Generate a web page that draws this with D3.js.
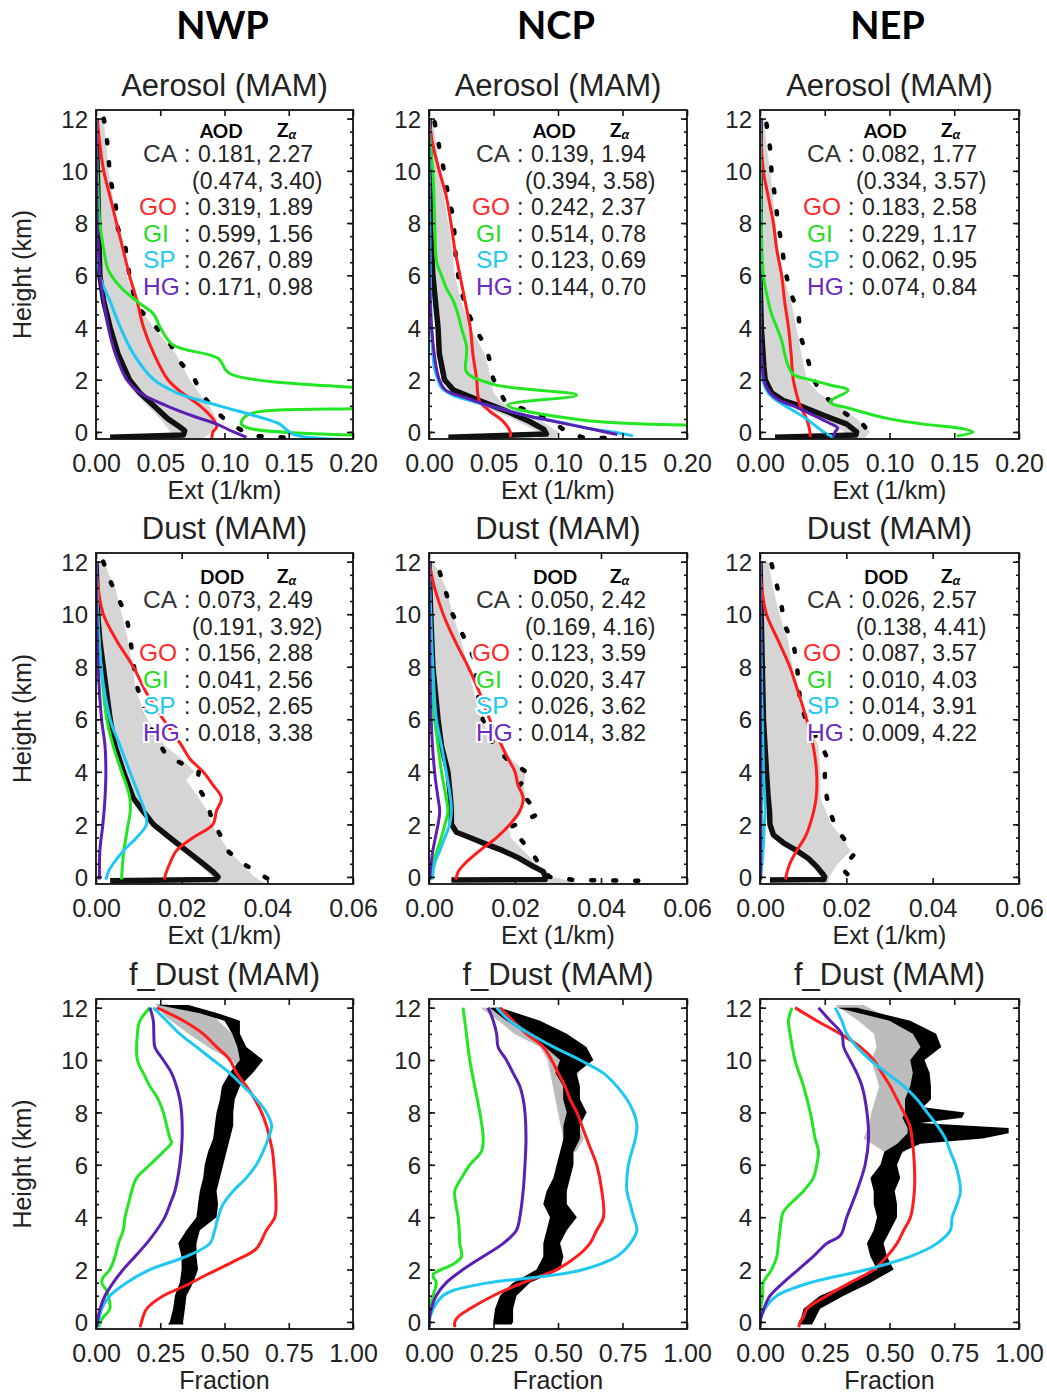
<!DOCTYPE html>
<html>
<head>
<meta charset="utf-8">
<script src="https://cdn.jsdelivr.net/npm/d3@7"></script>
<style>
  body { margin: 0; background: #fff; }
  svg { display: block; }
</style>
</head>
<body>
<div id="chart"></div>
<script>
// ---- categories / ticks ----
const regions = ["NWP", "NCP", "NEP"];
const rowTitles = ["Aerosol (MAM)", "Dust (MAM)", "f_Dust (MAM)"];
const rowXLabels = ["Ext (1/km)", "Ext (1/km)", "Fraction"];
const rowHeaders = ["AOD", "DOD", null];
const xDomains = [[0, 0.2], [0, 0.06], [0, 1]];
const xTicks = [[0, 0.05, 0.1, 0.15, 0.2], [0, 0.02, 0.04, 0.06], [0, 0.25, 0.5, 0.75, 1]];
const yTicks = [0, 2, 4, 6, 8, 10, 12];
const yMinorTicks = d3.range(0, 12.01, 0.5);
const typeNames = ["CA", null, "GO", "GI", "SP", "HG"];

// ---- legend stats: [optical depth, Z_alpha]; second row is the bracketed CA value ----
const nwpAerStats = [[0.181, 2.27], [0.474, 3.40], [0.319, 1.89], [0.599, 1.56], [0.267, 0.89], [0.171, 0.98]];
const ncpAerStats = [[0.139, 1.94], [0.394, 3.58], [0.242, 2.37], [0.514, 0.78], [0.123, 0.69], [0.144, 0.70]];
const nepAerStats = [[0.082, 1.77], [0.334, 3.57], [0.183, 2.58], [0.229, 1.17], [0.062, 0.95], [0.074, 0.84]];
const nwpDustStats = [[0.073, 2.49], [0.191, 3.92], [0.156, 2.88], [0.041, 2.56], [0.052, 2.65], [0.018, 3.38]];
const ncpDustStats = [[0.050, 2.42], [0.169, 4.16], [0.123, 3.59], [0.020, 3.47], [0.026, 3.62], [0.014, 3.82]];
const nepDustStats = [[0.026, 2.57], [0.138, 4.41], [0.087, 3.57], [0.010, 4.03], [0.014, 3.91], [0.009, 4.22]];

// ---- profiles: lines are [value, height]; gray/band are [height, low, high] ----
// NWP aerosol
const nwpAerGray = [[12, 0, 0.006], [11, 0, 0.008], [10, 0.001, 0.010], [9, 0.001, 0.013], [8, 0.001, 0.016], [7, 0.002, 0.020], [6, 0.002, 0.024], [5, 0.005, 0.030], [4, 0.009, 0.045], [3, 0.014, 0.062], [2, 0.022, 0.073], [1.5, 0.030, 0.080], [1, 0.040, 0.088], [0.5, 0.050, 0.094], [0, 0.058, 0.090], [-0.3, 0.058, 0.082]];
const nwpAerDots = [[0.006, 12.0], [0.008, 11.5], [0.0096, 10.6], [0.011, 9.7], [0.015, 8.85], [0.017, 7.8], [0.023, 7.05], [0.025, 6.3], [0.028, 5.5], [0.033, 4.75], [0.047, 4.0], [0.058, 3.35], [0.065, 2.7], [0.076, 2.1], [0.081, 1.55], [0.091, 0.9], [0.102, 0.4], [0.112, 0.1], [0.122, -0.15], [0.15, -0.22]];
const nwpAerCA = [[0, 12], [0.001, 10], [0.002, 8], [0.003, 6], [0.006, 5], [0.011, 4], [0.017, 3], [0.026, 2], [0.034, 1.5], [0.045, 1], [0.056, 0.5], [0.065, 0.2], [0.069, 0.05], [0.068, -0.12], [0.011, -0.2]];
const nwpAerGO = [[0.001, 12], [0.003, 11], [0.006, 10], [0.011, 9], [0.016, 8], [0.021, 7], [0.026, 6], [0.032, 5], [0.037, 4], [0.045, 3], [0.056, 2], [0.067, 1.5], [0.081, 1], [0.091, 0.5], [0.094, 0.2], [0.091, 0], [0.090, -0.3]];
const nwpAerGI = [[0, 12], [0.001, 10], [0.003, 8], [0.006, 7], [0.0096, 6.2], [0.020, 5.5], [0.032, 5], [0.045, 4.5], [0.050, 4], [0.060, 3.33], [0.095, 2.82], [0.104, 2.24], [0.25, 1.4], [0.24, 1.05], [0.1185, 0.67], [0.113, 0.32], [0.12, 0.13], [0.21, -0.13]];
const nwpAerSP = [[0, 12], [0.001, 8], [0.003, 6], [0.011, 5], [0.019, 4], [0.029, 3], [0.045, 2], [0.063, 1.5], [0.096, 1], [0.125, 0.6], [0.143, 0.3], [0.148, 0.1], [0.154, -0.1], [0.2, -0.3]];
const nwpAerHG = [[0, 12], [0.001, 8], [0.003, 6], [0.006, 5], [0.0096, 4], [0.015, 3], [0.024, 2], [0.034, 1.5], [0.055, 1], [0.076, 0.6], [0.094, 0.3], [0.107, 0], [0.117, -0.2]];

// NCP aerosol
const ncpAerGray = [[12, 0, 0.003], [10, 0, 0.008], [8, 0.001, 0.015], [7, 0.001, 0.018], [6, 0.002, 0.020], [5, 0.004, 0.025], [4, 0.006, 0.032], [3, 0.008, 0.043], [2.5, 0.009, 0.046], [2, 0.011, 0.048], [1.5, 0.020, 0.050], [1.2, 0.030, 0.055], [1, 0.040, 0.060], [0.5, 0.065, 0.085], [0, 0.085, 0.100], [-0.3, 0.085, 0.098]];
const ncpAerDots = [[0.0044, 11.86], [0.008, 10.9], [0.012, 9.9], [0.015, 9.0], [0.019, 8.2], [0.020, 7.3], [0.021, 6.5], [0.024, 5.6], [0.029, 4.7], [0.0355, 4.0], [0.0446, 3.2], [0.048, 2.56], [0.0497, 2.05], [0.055, 1.54], [0.059, 1.15], [0.0756, 0.83], [0.096, 0.38], [0.107, 0.0], [0.12, -0.22], [0.145, -0.24]];
const ncpAerCA = [[0, 12], [0.001, 10], [0.001, 8], [0.003, 6], [0.007, 4], [0.008, 3], [0.012, 2], [0.019, 1.6], [0.039, 1.2], [0.060, 0.8], [0.078, 0.4], [0.089, 0.1], [0.091, -0.08], [0.015, -0.2]];
const ncpAerGO = [[0, 12], [0.003, 11], [0.008, 10], [0.0135, 9], [0.017, 8], [0.020, 7], [0.024, 6], [0.028, 5], [0.032, 4], [0.034, 3], [0.037, 2], [0.039, 1.2], [0.047, 0.8], [0.0575, 0.4], [0.063, 0], [0.063, -0.2]];
const ncpAerGI = [[0, 12], [0.001, 11], [0.003, 10], [0.0045, 8], [0.006, 6.5], [0.0096, 6], [0.0135, 5.5], [0.019, 5], [0.0225, 4.5], [0.025, 4], [0.029, 3.3], [0.029, 2.9], [0.029, 2.3], [0.050, 1.82], [0.1145, 1.41], [0.061, 1.03], [0.12, 0.45], [0.2, 0.26], [0.24, 0.21]];
const ncpAerSP = [[0, 12], [0.001, 6], [0.002, 4], [0.004, 2.5], [0.007, 2], [0.0096, 1.7], [0.019, 1.4], [0.032, 1.2], [0.047, 1.0], [0.078, 0.6], [0.109, 0.3], [0.127, 0.1], [0.143, 0], [0.158, -0.15]];
const ncpAerHG = [[0, 12], [0.002, 4], [0.008, 2], [0.013, 1.6], [0.029, 1.3], [0.047, 1.0], [0.078, 0.6], [0.107, 0.3], [0.127, 0.1], [0.146, -0.1]];

// NEP aerosol
const nepAerGray = [[12, 0, 0.003], [11, 0, 0.005], [10, 0, 0.008], [9, 0, 0.010], [8, 0, 0.012], [7, 0.001, 0.014], [6, 0.001, 0.018], [5, 0.001, 0.024], [4, 0.002, 0.028], [3, 0.002, 0.032], [2, 0.004, 0.036], [1.5, 0.010, 0.045], [1, 0.030, 0.060], [0.5, 0.050, 0.075], [0, 0.065, 0.085], [-0.3, 0.065, 0.080]];
const nepAerDots = [[0.005, 11.8], [0.0077, 10.9], [0.009, 9.9], [0.0116, 9.0], [0.014, 7.95], [0.0167, 7.2], [0.019, 6.3], [0.023, 5.4], [0.0296, 4.6], [0.031, 3.7], [0.036, 2.95], [0.040, 2.2], [0.046, 1.54], [0.064, 0.77], [0.080, 0.26], [0.0874, -0.25]];
const nepAerCA = [[0, 12], [0, 6], [0.001, 4], [0.003, 2.5], [0.004, 2], [0.009, 1.5], [0.018, 1.2], [0.031, 1.0], [0.051, 0.6], [0.067, 0.3], [0.0746, 0], [0.074, -0.12], [0.0116, -0.2]];
const nepAerGO = [[0, 12], [0.0026, 10], [0.0064, 9], [0.0103, 8], [0.0129, 7], [0.0167, 6], [0.019, 5], [0.022, 4], [0.024, 3], [0.0257, 2], [0.028, 1.5], [0.031, 1], [0.036, 0.5], [0.0386, 0], [0.0386, -0.2]];
const nepAerGI = [[0, 12], [0.001, 8], [0.0026, 6], [0.0064, 5], [0.009, 4.5], [0.013, 4], [0.0167, 3.5], [0.019, 3], [0.022, 2.5], [0.0257, 2.2], [0.0386, 2.0], [0.054, 1.8], [0.068, 1.6], [0.054, 1.15], [0.0694, 0.9], [0.100, 0.5], [0.126, 0.3], [0.157, 0.12], [0.1645, 0.0], [0.152, -0.15]];
const nepAerSP = [[0, 12], [0, 6], [0.0005, 3], [0.002, 2], [0.0064, 1.5], [0.013, 1.2], [0.023, 0.9], [0.036, 0.5], [0.0437, 0.2], [0.049, 0], [0.0566, -0.2]];
const nepAerHG = [[0, 12], [0.003, 2], [0.0077, 1.5], [0.0154, 1.2], [0.0257, 1], [0.0386, 0.7], [0.051, 0.4], [0.060, 0.15], [0.058, 0], [0.0566, -0.2]];

// NWP dust
const nwpDustGray = [[12, 0, 0.002], [11.5, 0, 0.003], [11, 0, 0.0045], [10, 0.0005, 0.006], [9, 0.001, 0.0075], [8, 0.0015, 0.0085], [7, 0.002, 0.0095], [6, 0.003, 0.012], [5, 0.0045, 0.016], [4.5, 0.005, 0.020], [4, 0.006, 0.023], [3.7, 0.007, 0.021], [3, 0.0085, 0.024], [2.5, 0.010, 0.026], [2, 0.013, 0.027], [1.5, 0.017, 0.029], [1, 0.020, 0.031], [0.5, 0.024, 0.034], [0, 0.027, 0.037], [-0.3, 0.027, 0.040]];
const nwpDustDots = [[0.0017, 12.0], [0.0035, 11.2], [0.0071, 9.94], [0.0079, 9.2], [0.0087, 8.2], [0.0095, 7.3], [0.011, 6.5], [0.013, 5.6], [0.0165, 4.6], [0.024, 4.0], [0.0235, 3.5], [0.026, 2.85], [0.027, 2.2], [0.029, 1.6], [0.031, 0.95], [0.035, 0.44], [0.040, -0.06], [0.042, -0.2]];
const nwpDustCA = [[0, 12], [0.0004, 10], [0.0009, 9], [0.0017, 8], [0.0025, 7], [0.0033, 6], [0.0044, 5], [0.0064, 4], [0.0087, 3], [0.011, 2.5], [0.0134, 2], [0.0172, 1.5], [0.0211, 1], [0.025, 0.5], [0.0273, 0.2], [0.0285, 0], [0.028, -0.1], [0.0033, -0.15]];
const nwpDustGO = [[0, 12], [0.0005, 11], [0.0017, 10], [0.0048, 9], [0.0087, 8], [0.0118, 7], [0.0157, 6], [0.020, 5], [0.0219, 4.5], [0.025, 4], [0.0273, 3.5], [0.0293, 3], [0.0281, 2.5], [0.0273, 2], [0.0227, 1.5], [0.0188, 1], [0.0172, 0.5], [0.0161, 0], [0.0161, -0.1]];
const nwpDustGI = [[0, 12], [0.0004, 10], [0.0012, 8], [0.0025, 6], [0.004, 5], [0.006, 4], [0.0071, 3.5], [0.0079, 3], [0.008, 2.5], [0.0075, 2], [0.007, 1.5], [0.0065, 1], [0.0062, 0.5], [0.006, 0], [0.006, -0.1]];
const nwpDustSP = [[0, 12], [0.0012, 8], [0.0033, 6], [0.0056, 5], [0.0079, 4], [0.0103, 3], [0.0114, 2.5], [0.0118, 2], [0.0095, 1.5], [0.0064, 1], [0.004, 0.5], [0.0029, 0.2], [0.0025, 0], [0.0023, -0.1]];
const nwpDustHG = [[0, 12], [0.0005, 8], [0.0013, 6], [0.0021, 5], [0.0023, 4], [0.0021, 3], [0.0016, 2], [0.0009, 1], [0.0008, 0], [0.0008, -0.1]];

// NCP dust
const ncpDustGray = [[12, 0, 0.001], [11.5, 0, 0.0025], [11, 0, 0.004], [10, 0, 0.0055], [9, 0.0005, 0.0075], [8, 0.001, 0.009], [7, 0.0015, 0.0105], [6, 0.002, 0.012], [5.5, 0.0025, 0.014], [5, 0.003, 0.017], [4.5, 0.0035, 0.019], [4, 0.004, 0.0225], [3.5, 0.0045, 0.022], [3, 0.005, 0.0225], [2.5, 0.005, 0.021], [2, 0.005, 0.0185], [1.5, 0.010, 0.019], [1, 0.017, 0.022], [0.5, 0.023, 0.025], [0, 0.027, 0.029], [-0.2, 0.027, 0.034], [-0.3, 0.027, 0.034]];
const ncpDustDots = [[0.0025, 11.6], [0.004, 10.8], [0.0055, 10], [0.0085, 9], [0.0105, 8.3], [0.011, 7.6], [0.0115, 6.8], [0.0125, 6], [0.0145, 5.2], [0.018, 4.5], [0.0235, 3.9], [0.0205, 3.4], [0.023, 2.9], [0.0255, 2.4], [0.019, 1.9], [0.022, 1.3], [0.024, 0.9], [0.026, 0.4], [0.028, 0], [0.034, -0.12], [0.053, -0.15]];
const ncpDustCA = [[0, 12], [0.0004, 10], [0.0009, 8], [0.0021, 6], [0.0029, 5], [0.0044, 4], [0.005, 3], [0.0052, 2.5], [0.0052, 2], [0.0064, 1.7], [0.0095, 1.5], [0.014, 1.2], [0.0172, 1], [0.0211, 0.7], [0.0242, 0.4], [0.0266, 0.2], [0.027, 0], [0.027, -0.1], [0.0052, -0.12]];
const ncpDustGO = [[0, 12], [0.0006, 11.5], [0.0013, 11], [0.0033, 10], [0.006, 9], [0.0091, 8], [0.0118, 7], [0.0141, 6], [0.0169, 5], [0.0184, 4.5], [0.020, 4], [0.0207, 3.5], [0.0219, 3], [0.0211, 2.5], [0.0188, 2], [0.0157, 1.5], [0.0118, 1], [0.0083, 0.5], [0.0068, 0.2], [0.0064, 0], [0.0062, -0.1]];
const ncpDustGI = [[0, 12], [0.0005, 8], [0.0013, 6], [0.0021, 5], [0.0029, 4], [0.004, 3], [0.0044, 2.5], [0.0037, 2], [0.0029, 1.5], [0.0019, 1], [0.0009, 0.5], [0.0005, 0], [0.0005, -0.1]];
const ncpDustSP = [[0, 12], [0.0009, 8], [0.0017, 6], [0.0029, 5], [0.004, 4], [0.005, 3], [0.0052, 2.5], [0.0048, 2], [0.0037, 1.5], [0.0025, 1], [0.0013, 0.5], [0.0008, 0], [0.0008, -0.1]];
const ncpDustHG = [[0, 12], [0.0005, 6], [0.0013, 4], [0.0021, 3], [0.0025, 2.5], [0.0021, 2], [0.0009, 1], [0.0002, 0], [0.0002, -0.1]];

// NEP dust
const nepDustGray = [[12, 0, 0.002], [11, 0, 0.003], [10, 0, 0.0045], [9, 0.0002, 0.0065], [8, 0.0004, 0.0075], [7, 0.0005, 0.0085], [6, 0.0007, 0.0105], [5, 0.001, 0.0135], [4, 0.0013, 0.014], [3, 0.0015, 0.014], [2, 0.0022, 0.0165], [1.5, 0.0028, 0.019], [1, 0.008, 0.021], [0.5, 0.012, 0.018], [0, 0.014, 0.016], [-0.3, 0.014, 0.016]];
const nepDustDots = [[0.0027, 11.9], [0.0039, 11.1], [0.005, 10.3], [0.0058, 9.55], [0.0077, 8.9], [0.0085, 8.2], [0.0089, 7.4], [0.0093, 6.65], [0.0108, 5.9], [0.0139, 5.1], [0.0154, 4.6], [0.015, 3.86], [0.0154, 3.1], [0.0162, 2.47], [0.0177, 1.84], [0.020, 1.33], [0.0216, 0.82], [0.019, 0.32], [0.0216, -0.13]];
const nepDustCA = [[0, 12], [0.0008, 6], [0.0015, 4], [0.0019, 3], [0.0022, 2.5], [0.0023, 2], [0.0031, 1.6], [0.0054, 1.3], [0.0085, 1], [0.0112, 0.7], [0.0131, 0.4], [0.0146, 0.1], [0.015, 0], [0.0148, -0.1], [0.0023, -0.12]];
const nepDustGO = [[0, 12], [0.0004, 11], [0.0015, 10], [0.0042, 9], [0.0069, 8], [0.0089, 7], [0.0108, 6], [0.0123, 5], [0.0131, 4], [0.013, 3], [0.0116, 2], [0.0104, 1.5], [0.0085, 1], [0.0069, 0.5], [0.006, 0], [0.0059, -0.1]];
const nepDustGI = [[0, 12], [0.0002, 6], [0.0003, 3], [0.0002, 1], [0.0001, 0], [0.0001, -0.1]];
const nepDustSP = [[0, 12], [0.0003, 8], [0.0008, 4], [0.0012, 2.5], [0.001, 2], [0.0007, 1], [0.0002, 0], [0.0002, -0.1]];
const nepDustHG = [[0, 12], [0.0001, 6], [0.0002, 3], [0.0001, 0], [0.0001, -0.1]];

// NWP dust fraction
const nwpFracGray = [[12.15, 0.23, 0.27], [11.65, 0.27, 0.46], [11.0, 0.36, 0.53], [10.4, 0.45, 0.56], [10.0, 0.53, 0.57], [9.6, 0.56, 0.57]];
const nwpFracBand = [[12.1, 0.24, 0.36], [11.8, 0.40, 0.47], [11.5, 0.50, 0.56], [11.0, 0.53, 0.56], [10.5, 0.55, 0.585], [10.0, 0.56, 0.65], [9.5, 0.52, 0.61], [9.0, 0.49, 0.56], [8.5, 0.482, 0.54], [8.0, 0.469, 0.534], [7.5, 0.462, 0.534], [7.0, 0.456, 0.521], [6.5, 0.436, 0.508], [6.0, 0.423, 0.495], [5.5, 0.417, 0.482], [5.0, 0.404, 0.469], [4.5, 0.397, 0.475], [4.0, 0.391, 0.469], [3.5, 0.352, 0.404], [3.0, 0.320, 0.391], [2.5, 0.333, 0.391], [2.0, 0.333, 0.397], [1.5, 0.326, 0.378], [1.0, 0.307, 0.352], [0.5, 0.300, 0.346], [0.0, 0.287, 0.339], [-0.1, 0.28, 0.34]];
const nwpFracGO = [[0.236, 12], [0.34, 11.5], [0.417, 11], [0.469, 10.5], [0.521, 10], [0.547, 9.5], [0.585, 9], [0.618, 8.5], [0.644, 8], [0.663, 7.5], [0.676, 7], [0.687, 6.5], [0.692, 6], [0.699, 5], [0.696, 4], [0.663, 3.5], [0.624, 2.8], [0.534, 2.3], [0.43, 1.8], [0.352, 1.4], [0.262, 1.0], [0.197, 0.5], [0.177, 0], [0.172, -0.2]];
const nwpFracGI = [[0.21, 12], [0.171, 11.5], [0.161, 11], [0.161, 10], [0.184, 9.5], [0.21, 9], [0.242, 8.5], [0.262, 8], [0.275, 7.5], [0.288, 7], [0.294, 6.85], [0.262, 6.5], [0.21, 6], [0.158, 5.5], [0.139, 5], [0.126, 4.5], [0.113, 4], [0.106, 3.5], [0.087, 3], [0.074, 2.5], [0.054, 2], [0.028, 1.7], [0.022, 1.5], [0.041, 1.2], [0.048, 1], [0.054, 0.5], [0.03, 0.2], [0.016, 0], [0.01, -0.2]];
const nwpFracSP = [[0.223, 12], [0.275, 11.5], [0.326, 11], [0.391, 10.5], [0.456, 10], [0.521, 9.5], [0.573, 9], [0.624, 8.5], [0.663, 8], [0.683, 7.5], [0.67, 7], [0.65, 6.5], [0.624, 6], [0.585, 5.5], [0.534, 5], [0.495, 4.5], [0.475, 4], [0.462, 3.5], [0.443, 3], [0.352, 2.5], [0.21, 2], [0.119, 1.5], [0.054, 1], [0.022, 0.5], [0.009, 0], [0.005, -0.2]];
const nwpFracHG = [[0.21, 12], [0.223, 11.5], [0.225, 11], [0.229, 10.5], [0.262, 10], [0.294, 9.5], [0.313, 9], [0.326, 8.5], [0.333, 8], [0.335, 7], [0.326, 6], [0.307, 5], [0.288, 4.5], [0.268, 4], [0.236, 3.5], [0.197, 3], [0.152, 2.5], [0.106, 2], [0.067, 1.5], [0.035, 1], [0.016, 0.5], [0.005, 0], [0.003, -0.2]];

// NCP dust fraction
const ncpFracGray = [[12.0, 0.20, 0.26], [11.5, 0.27, 0.36], [11.0, 0.33, 0.45], [10.5, 0.43, 0.55], [10.0, 0.46, 0.60], [9.0, 0.48, 0.56], [8.0, 0.50, 0.56], [7.0, 0.52, 0.60], [6.5, 0.53, 0.57]];
const ncpFracBand = [[12.0, 0.236, 0.275], [11.5, 0.30, 0.43], [11.0, 0.378, 0.534], [10.5, 0.45, 0.61], [10.0, 0.508, 0.637], [9.5, 0.49, 0.572], [9.0, 0.52, 0.585], [8.5, 0.52, 0.585], [8.0, 0.534, 0.611], [7.5, 0.521, 0.585], [7.0, 0.521, 0.585], [6.5, 0.508, 0.56], [6.0, 0.495, 0.56], [5.5, 0.482, 0.547], [5.0, 0.456, 0.534], [4.5, 0.443, 0.534], [4.0, 0.469, 0.573], [3.5, 0.456, 0.534], [3.0, 0.443, 0.508], [2.5, 0.443, 0.521], [2.0, 0.417, 0.508], [1.5, 0.326, 0.391], [1.0, 0.275, 0.339], [0.5, 0.256, 0.326], [0.0, 0.249, 0.326], [-0.1, 0.25, 0.32]];
const ncpFracGO = [[0.275, 12], [0.326, 11.5], [0.378, 11], [0.443, 10.5], [0.475, 10], [0.501, 9.5], [0.527, 9], [0.547, 8.5], [0.573, 8], [0.592, 7.5], [0.611, 7], [0.631, 6.5], [0.65, 6], [0.67, 5], [0.676, 4], [0.65, 3.5], [0.624, 3], [0.573, 2.5], [0.495, 2], [0.365, 1.5], [0.249, 1], [0.158, 0.5], [0.113, 0.2], [0.1, 0], [0.1, -0.2]];
const ncpFracGI = [[0.132, 12], [0.145, 11], [0.158, 10], [0.177, 9], [0.197, 8], [0.21, 7], [0.203, 6.5], [0.158, 6], [0.126, 5.5], [0.1, 5], [0.104, 4.5], [0.113, 4], [0.117, 3.5], [0.119, 3], [0.126, 2.5], [0.093, 2.2], [0.016, 1.8], [0.028, 1.5], [0.022, 1.2], [0.016, 1], [0.003, 0.5], [0, 0], [0, -0.2]];
const ncpFracSP = [[0.262, 12], [0.313, 11.5], [0.391, 11], [0.482, 10.5], [0.585, 10], [0.676, 9.5], [0.728, 9], [0.767, 8.5], [0.793, 8], [0.806, 7.5], [0.80, 7], [0.773, 6], [0.767, 5], [0.78, 4.5], [0.793, 4], [0.806, 3.5], [0.78, 3], [0.728, 2.5], [0.598, 2], [0.456, 1.75], [0.236, 1.5], [0.093, 1.2], [0.054, 1], [0.016, 0.5], [0, 0], [0, -0.2]];
const ncpFracHG = [[0.229, 12], [0.249, 11.5], [0.262, 11], [0.268, 10.5], [0.30, 10], [0.326, 9.5], [0.352, 9], [0.365, 8.5], [0.372, 8], [0.376, 7], [0.372, 6], [0.365, 5], [0.352, 4], [0.339, 3.5], [0.288, 3], [0.21, 2.5], [0.132, 2], [0.067, 1.5], [0.028, 1], [0.009, 0.5], [0, 0], [0, -0.2]];

// NEP dust fraction
const nepFracGray = [[12.1, 0.29, 0.40], [11.5, 0.38, 0.52], [11.0, 0.44, 0.60], [10.5, 0.45, 0.63], [10.0, 0.43, 0.60], [9.0, 0.46, 0.59], [8.0, 0.43, 0.57], [7.5, 0.42, 0.60], [7.0, 0.40, 0.58], [6.5, 0.48, 0.56], [6.3, 0.50, 0.52]];
const nepFracBand = [[12.0, 0.297, 0.374], [11.5, 0.50, 0.58], [11.0, 0.59, 0.68], [10.5, 0.62, 0.70], [10.0, 0.58, 0.635], [9.5, 0.59, 0.655], [9.0, 0.58, 0.66], [8.5, 0.56, 0.66], [8.2, 0.56, 0.63], [8.0, 0.56, 0.79], [7.8, 0.55, 0.78], [7.6, 0.56, 0.62], [7.4, 0.57, 0.96], [7.2, 0.57, 0.96], [7.0, 0.55, 0.86], [6.8, 0.53, 0.62], [6.5, 0.48, 0.55], [6.0, 0.465, 0.529], [5.5, 0.426, 0.541], [5.0, 0.439, 0.52], [4.5, 0.439, 0.529], [4.0, 0.452, 0.529], [3.5, 0.439, 0.503], [3.0, 0.413, 0.477], [2.5, 0.426, 0.49], [2.0, 0.452, 0.516], [1.5, 0.348, 0.426], [1.0, 0.232, 0.323], [0.5, 0.168, 0.232], [0.0, 0.155, 0.206], [-0.1, 0.155, 0.2]];
const nepFracGO = [[0.135, 12], [0.219, 11.5], [0.31, 11], [0.387, 10.5], [0.439, 10], [0.471, 9.5], [0.503, 9], [0.529, 8.5], [0.555, 8], [0.578, 7.5], [0.587, 7], [0.596, 6], [0.596, 5], [0.581, 4], [0.555, 3.5], [0.529, 3], [0.49, 2.5], [0.439, 2], [0.348, 1.5], [0.258, 1], [0.181, 0.5], [0.168, 0.2], [0.155, 0], [0.15, -0.2]];
const nepFracGI = [[0.123, 12], [0.11, 11.5], [0.116, 11], [0.135, 10], [0.168, 9], [0.194, 8], [0.213, 7], [0.226, 6.5], [0.219, 6], [0.206, 5.5], [0.168, 5], [0.116, 4.5], [0.09, 4.2], [0.084, 4], [0.077, 3.5], [0.071, 3], [0.065, 2.5], [0.045, 2], [0.013, 1.5], [0.01, 1], [0.003, 0.5], [0, 0], [0, -0.2]];
const nepFracSP = [[0.29, 12], [0.316, 11.5], [0.335, 11], [0.374, 10.5], [0.426, 10], [0.49, 9.5], [0.555, 9], [0.606, 8.5], [0.645, 8], [0.684, 7.5], [0.716, 7], [0.735, 6.5], [0.755, 6], [0.768, 5.5], [0.774, 5], [0.761, 4.5], [0.742, 4], [0.735, 3.5], [0.684, 3], [0.581, 2.5], [0.413, 2], [0.194, 1.5], [0.065, 1], [0.019, 0.5], [0, 0], [0, -0.2]];
const nepFracHG = [[0.226, 12], [0.271, 11.5], [0.316, 11], [0.323, 10.5], [0.348, 10], [0.374, 9.5], [0.394, 9], [0.413, 8], [0.419, 7], [0.406, 6], [0.374, 5], [0.335, 4], [0.31, 3.3], [0.258, 3], [0.206, 2.5], [0.148, 2], [0.09, 1.5], [0.039, 1], [0.015, 0.5], [0, 0], [0, -0.2]];

// ---- layout ----
const colLeft = [96, 429, 760];
const colRight = [353, 687, 1019];
const rowTop = [110, 553, 999];
const rowBottom = [439, 884, 1329];
const heightDomain = [-0.27, 12.33];
const lineColors = { GO: "#ff1c1c", GI: "#22e622", SP: "#1ec8f2", HG: "#5b1fb5" };
const textColors = { CA: "#333", GO: "#ff2a2a", GI: "#22dd22", SP: "#22c8ee", HG: "#6a2cbf" };
const sansFont = "'Liberation Sans', Arial, Helvetica, sans-serif";
const boldFont = "Lato, 'Open Sans', sans-serif";

const panels = [
  { row: 0, col: 0, gray: nwpAerGray, dots: nwpAerDots, ca: nwpAerCA, GO: nwpAerGO, GI: nwpAerGI, SP: nwpAerSP, HG: nwpAerHG, stats: nwpAerStats },
  { row: 0, col: 1, gray: ncpAerGray, dots: ncpAerDots, ca: ncpAerCA, GO: ncpAerGO, GI: ncpAerGI, SP: ncpAerSP, HG: ncpAerHG, stats: ncpAerStats },
  { row: 0, col: 2, gray: nepAerGray, dots: nepAerDots, ca: nepAerCA, GO: nepAerGO, GI: nepAerGI, SP: nepAerSP, HG: nepAerHG, stats: nepAerStats },
  { row: 1, col: 0, gray: nwpDustGray, dots: nwpDustDots, ca: nwpDustCA, GO: nwpDustGO, GI: nwpDustGI, SP: nwpDustSP, HG: nwpDustHG, stats: nwpDustStats },
  { row: 1, col: 1, gray: ncpDustGray, dots: ncpDustDots, ca: ncpDustCA, GO: ncpDustGO, GI: ncpDustGI, SP: ncpDustSP, HG: ncpDustHG, stats: ncpDustStats },
  { row: 1, col: 2, gray: nepDustGray, dots: nepDustDots, ca: nepDustCA, GO: nepDustGO, GI: nepDustGI, SP: nepDustSP, HG: nepDustHG, stats: nepDustStats },
  { row: 2, col: 0, gray: nwpFracGray, band: nwpFracBand, GO: nwpFracGO, GI: nwpFracGI, SP: nwpFracSP, HG: nwpFracHG },
  { row: 2, col: 1, gray: ncpFracGray, band: ncpFracBand, GO: ncpFracGO, GI: ncpFracGI, SP: ncpFracSP, HG: ncpFracHG },
  { row: 2, col: 2, gray: nepFracGray, band: nepFracBand, GO: nepFracGO, GI: nepFracGI, SP: nepFracSP, HG: nepFracHG }
];

function main() {
  const svg = d3.select("#chart").append("svg")
    .attr("width", 1047).attr("height", 1395)
    .style("font-family", sansFont);

  // region headers
  svg.selectAll(".region").data(regions).enter().append("text")
    .attr("x", (d, i) => (colLeft[i] + colRight[i]) / 2 - 2)
    .attr("y", 39)
    .attr("text-anchor", "middle")
    .style("font-family", boldFont).style("font-weight", "bold").style("font-size", "38px")
    .text((d) => d);

  // height label for the first column
  rowTitles.forEach((t, r) => {
    svg.append("text")
      .attr("transform", `translate(31, ${(rowTop[r] + rowBottom[r]) / 2}) rotate(-90)`)
      .attr("text-anchor", "middle")
      .style("font-size", "25px").attr("fill", "#222")
      .text("Height (km)");
  });

  panels.forEach((p, i) => drawPanel(svg, p, i));
}

function drawPanel(svg, p, idx) {
  const L = colLeft[p.col], R = colRight[p.col], T = rowTop[p.row], B = rowBottom[p.row];
  const x = d3.scaleLinear().domain(xDomains[p.row]).range([L, R]);
  const y = d3.scaleLinear().domain(heightDomain).range([B, T]);
  const g = svg.append("g");

  const clipId = "clip" + idx;
  svg.append("clipPath").attr("id", clipId)
    .append("rect").attr("x", L).attr("y", T).attr("width", R - L).attr("height", B - T);
  const plot = g.append("g").attr("clip-path", `url(#${clipId})`);

  const area = d3.area().y((d) => y(d[0])).x0((d) => x(d[1])).x1((d) => x(d[2]));
  const straight = d3.line().x((d) => x(d[0])).y((d) => y(d[1]));
  const smooth = d3.line().x((d) => x(d[0])).y((d) => y(d[1])).curve(d3.curveCatmullRom.alpha(0.5));

  plot.append("path").datum(p.gray).attr("d", area)
    .attr("fill", p.row === 2 ? "#bcbcbc" : "#d5d5d5");

  if (p.dots) {
    plot.append("path").datum(p.dots).attr("d", straight)
      .attr("fill", "none").attr("stroke", "#000").attr("stroke-width", 4.5)
      .attr("stroke-dasharray", "3,19").attr("stroke-linecap", "round");
  }

  if (p.ca) {
    plot.append("path").datum(p.ca).attr("d", straight)
      .attr("fill", "none").attr("stroke", "#111").attr("stroke-width", 5.5)
      .attr("stroke-linejoin", "round");
  } else {
    plot.append("path").datum(p.band).attr("d", area).attr("fill", "#000");
  }

  ["GO", "GI", "SP", "HG"].forEach((k) => {
    plot.append("path").datum(p[k]).attr("d", smooth)
      .attr("fill", "none").attr("stroke", lineColors[k]).attr("stroke-width", 3)
      .attr("stroke-linejoin", "round");
  });

  // axes, IDL style: inward ticks on all four sides
  const axes = g.append("g").attr("class", "axes");
  const bottom = axes.append("g").attr("transform", `translate(0,${B})`)
    .call(d3.axisBottom(x).tickValues(xTicks[p.row]).tickSizeInner(-6).tickSizeOuter(0)
      .tickFormat(d3.format(".2f")));
  bottom.selectAll("text").attr("y", 0).attr("dy", null).attr("transform", "translate(0,33)")
    .style("font-size", "25px").attr("fill", "#222").style("font-family", sansFont);
  axes.append("g").attr("transform", `translate(0,${T})`)
    .call(d3.axisTop(x).tickValues(xTicks[p.row]).tickSizeInner(-6).tickSizeOuter(0).tickFormat(""));

  const left = axes.append("g").attr("transform", `translate(${L},0)`)
    .call(d3.axisLeft(y).tickValues(yTicks).tickSizeInner(-6).tickSizeOuter(0).tickPadding(8)
      .tickFormat(d3.format("d")));
  left.selectAll("text").style("font-size", "24px").attr("fill", "#222").style("font-family", sansFont)
    .attr("dy", "0.36em");
  axes.append("g").attr("transform", `translate(${L},0)`)
    .call(d3.axisLeft(y).tickValues(yMinorTicks).tickSizeInner(-3).tickSizeOuter(0).tickFormat(""));
  axes.append("g").attr("transform", `translate(${R},0)`)
    .call(d3.axisRight(y).tickValues(yTicks).tickSizeInner(-6).tickSizeOuter(0).tickFormat(""));
  axes.append("g").attr("transform", `translate(${R},0)`)
    .call(d3.axisRight(y).tickValues(yMinorTicks).tickSizeInner(-3).tickSizeOuter(0).tickFormat(""));
  axes.selectAll(".domain").remove();
  axes.selectAll(".tick line").attr("stroke", "#111").attr("stroke-width", 1.6);

  g.append("rect").attr("x", L).attr("y", T).attr("width", R - L).attr("height", B - T)
    .attr("fill", "none").attr("stroke", "#111").attr("stroke-width", 1.8);

  // titles
  g.append("text").attr("x", (L + R) / 2).attr("y", T - 14)
    .attr("text-anchor", "middle").style("font-size", "31px").attr("fill", "#222")
    .text(rowTitles[p.row]);
  g.append("text").attr("x", (L + R) / 2).attr("y", B + 60)
    .attr("text-anchor", "middle").style("font-size", "25px").attr("fill", "#222")
    .text(rowXLabels[p.row]);

  if (!p.stats) return;

  // legend block
  const top = p.row === 0 ? T + 21 : T + 24;
  const first = p.row === 0 ? T + 44 : T + 47;
  const step = 26.6;
  const head = g.append("g").style("font-family", boldFont).style("font-weight", "bold")
    .style("font-size", "19px").attr("fill", "#000");
  head.append("text").attr("x", L + 104).attr("y", top + 7).text(rowHeaders[p.row]);
  const z = head.append("text").attr("x", L + 181).attr("y", top + 6);
  z.append("tspan").text("Z");
  z.append("tspan").attr("dy", 2).style("font-size", "14px").style("font-style", "italic").text("α");

  const f3 = d3.format(".3f"), f2 = d3.format(".2f");
  const rows = g.append("g").style("font-size", "23px");
  p.stats.forEach((s, r) => {
    const yy = first + r * step + 8;
    const name = typeNames[r];
    if (name) {
      rows.append("text").attr("x", L + (name === "GO" ? 43 : 47)).attr("y", yy)
        .style("font-size", "24.5px")
        .attr("fill", textColors[name])
        .attr("stroke", "#fff").attr("stroke-width", 4).attr("paint-order", "stroke")
        .text(name);
      rows.append("text").attr("x", L + 88).attr("y", yy).attr("fill", "#222").text(":");
      rows.append("text").attr("x", L + 102).attr("y", yy).attr("fill", "#222")
        .text(`${f3(s[0])}, ${f2(s[1])}`);
    } else {
      rows.append("text").attr("x", L + 96).attr("y", yy).attr("fill", "#222")
        .text(`(${f3(s[0])}, ${f2(s[1])})`);
    }
  });
}

main();
</script>
</body>
</html>
